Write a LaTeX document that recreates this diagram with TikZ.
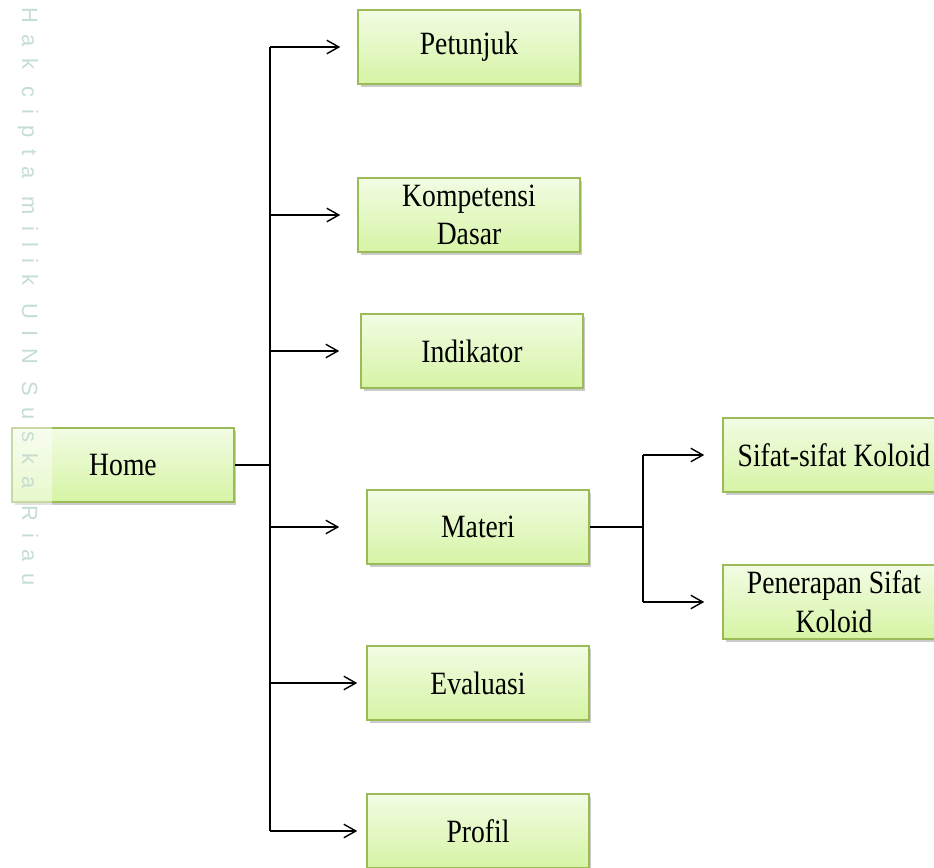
\documentclass[tikz,border=0pt]{standalone}
\usepackage{fontspec}
\setmainfont[FakeStretch=0.85]{Liberation Serif}
\newfontfamily\wmfont[LetterSpace=52]{Liberation Sans}
\usetikzlibrary{positioning,shadows,shadings,arrows.meta}
\definecolor{boxline}{RGB}{155,187,89}
\definecolor{boxtop}{RGB}{242,252,228}
\definecolor{boxbot}{RGB}{214,244,164}
\definecolor{wmark}{RGB}{198,222,210}
\tikzset{
  menu/.style={draw=boxline,line width=0.9pt,top color=boxtop,bottom color=boxbot,
    minimum width=4.44cm,minimum height=1.49cm,inner sep=1pt,align=center,
    font=\fontsize{18.5}{22}\selectfont,
    drop shadow={shadow xshift=0.5mm,shadow yshift=-0.6mm,fill=black!35,opacity=0.6}},
  link/.style={line width=0.8pt,>={Straight Barb[length=2.4mm,width=2.7mm]}},
}

\begin{document}
\begin{tikzpicture}[x=0.02cm,y=-0.02cm,inner sep=0.4mm]
\useasboundingbox (0,0) rectangle (934,868);

\coordinate (t) at (270,465);
\coordinate (m) at (643,527);

\node[menu] (home) at (123,465) {Home};
\node[menu] (pet) at (469,47) {Petunjuk};
\node[menu] (kd) at (469,215) {Kompetensi\\Dasar};
\node[menu] (ind) at (472,351) {Indikator};
\node[menu] (mat) at (478,527) {Materi};
\node[menu] (eva) at (478,683) {Evaluasi};
\node[menu] (pro) at (478,831) {Profil};
\node[menu] (sif) at (834,455) {Sifat-sifat Koloid};
\node[menu] (pen) at (834,602) {Penerapan Sifat\\Koloid};

% trunk
\draw[link] (home.east) -- (t);
\draw[link] (t |- pet) -- (t |- pro);
\draw[link,->] (t |- pet) -- ([xshift=-0.34cm] pet.west);
\draw[link,->] (t |- kd) -- ([xshift=-0.34cm] kd.west);
\draw[link,->] (t |- ind) -- ([xshift=-0.42cm] ind.west);
\draw[link,->] (t |- mat) -- ([xshift=-0.54cm] mat.west);
\draw[link,->] (t |- eva) -- ([xshift=-0.18cm] eva.west);
\draw[link,->] (t |- pro) -- ([xshift=-0.18cm] pro.west);

% materi branch
\draw[link] (mat.east) -- (m);
\draw[link] (m |- sif) -- (m |- pen);
\draw[link,->] (m |- sif) -- ([xshift=-0.36cm] sif.west);
\draw[link,->] (m |- pen) -- ([xshift=-0.36cm] pen.west);

% watermark strip
\fill[white,opacity=0.45] (0,0) rectangle (52,868);
\node[rotate=-90,anchor=base west,inner sep=0,text=wmark,font=\wmfont\fontsize{12.5}{14}\selectfont] (wm) at (22,7) {Hak cipta milik UIN Suska Riau};
\end{tikzpicture}
\end{document}
